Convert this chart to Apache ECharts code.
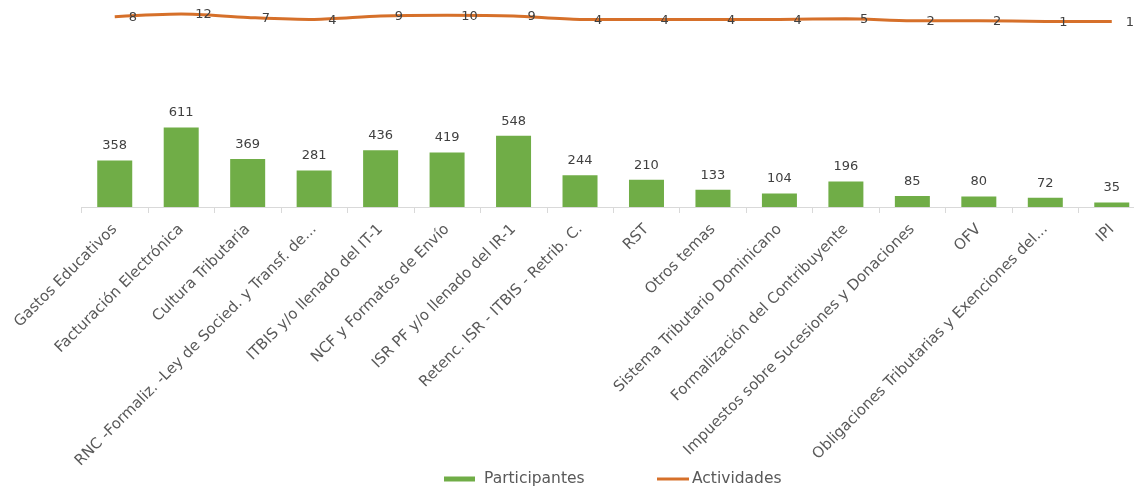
<!DOCTYPE html>
<html>
<head>
<meta charset="utf-8">
<title>Participantes y Actividades</title>
<script src="https://cdn.jsdelivr.net/npm/echarts@6/dist/echarts.min.js"></script>
<style>
  html, body { margin: 0; padding: 0; background: #fff; overflow: hidden; }
  /* the plot runs a little past the right edge, like the original */
  #chart { width: 1145px; height: 490px; }
</style>
</head>
<body>
<div id="chart"></div>
<script>
// temas
var categories = [
  'Gastos Educativos',
  'Facturación Electrónica',
  'Cultura Tributaria',
  'RNC -Formaliz. -Ley de Socied. y Transf. de...',
  'ITBIS y/o llenado del IT-1',
  'NCF y Formatos de Envío',
  'ISR PF y/o llenado del IR-1',
  'Retenc. ISR - ITBIS - Retrib. C.',
  'RST',
  'Otros temas',
  'Sistema Tributario Dominicano',
  'Formalización del Contribuyente',
  'Impuestos sobre Sucesiones y Donaciones',
  'OFV',
  'Obligaciones Tributarias y Exenciones del...',
  'IPI'
]
var participantes = [358, 611, 369, 281, 436, 419, 548, 244, 210, 133, 104, 196, 85, 80, 72, 35]
var actividades = [8, 12, 7, 4, 9, 10, 9, 4, 4, 4, 4, 5, 2, 2, 1, 1]

var font = 'DejaVu Sans'
var chart = echarts.init(document.getElementById('chart'))

chart.setOption({
  animation: false,
  textStyle: { fontFamily: font },
  grid: {
    left: 81.5,
    right: 0,
    top: 12,
    bottom: 283
  },
  legend: [
    {
      data: [{ name: 'Participantes', icon: 'rect' }],
      left: 444,
      top: 471,
      padding: 0,
      itemWidth: 31,
      itemHeight: 5,
      textStyle: { fontFamily: font, fontSize: 15.5, color: '#595959', padding: [0, 0, 0, 4] }
    },
    {
      data: [{ name: 'Actividades', icon: 'rect' }],
      left: 657,
      top: 471,
      padding: 0,
      itemWidth: 32,
      itemHeight: 3,
      textStyle: { fontFamily: font, fontSize: 15.5, color: '#595959', padding: [0, 0, 0, -2] }
    }
  ],
  xAxis: {
    type: 'category',
    data: categories,
    boundaryGap: true,
    axisLine: { lineStyle: { color: '#d9d9d9', width: 1 } },
    axisTick: { show: true, length: 6, lineStyle: { color: '#d9d9d9' } },
    axisLabel: {
      interval: 0,
      rotate: 45,
      margin: 20,
      fontFamily: font,
      fontSize: 15,
      color: '#595959'
    }
  },
  yAxis: [
    { type: 'value', min: 0, max: 1500, show: false, splitLine: { show: false } },
    { type: 'value', min: -275, max: 15, show: false, splitLine: { show: false } }
  ],
  series: [
    {
      name: 'Participantes',
      type: 'bar',
      data: participantes,
      barWidth: 35,
      itemStyle: { color: '#70ad47' },
      label: {
        show: true,
        position: 'top',
        distance: 8,
        fontFamily: font,
        fontSize: 13,
        color: '#404040'
      }
    },
    {
      name: 'Actividades',
      type: 'line',
      yAxisIndex: 1,
      data: actividades,
      smooth: 0.3,
      symbol: 'circle',
      symbolSize: 0.1,
      lineStyle: { color: '#d6702a', width: 3 },
      itemStyle: { color: '#d6702a' },
      label: {
        show: true,
        position: 'right',
        distance: 14,
        offset: [0, 1],
        fontFamily: font,
        fontSize: 13,
        color: '#404040'
      }
    }
  ]
})
</script>
</body>
</html>
